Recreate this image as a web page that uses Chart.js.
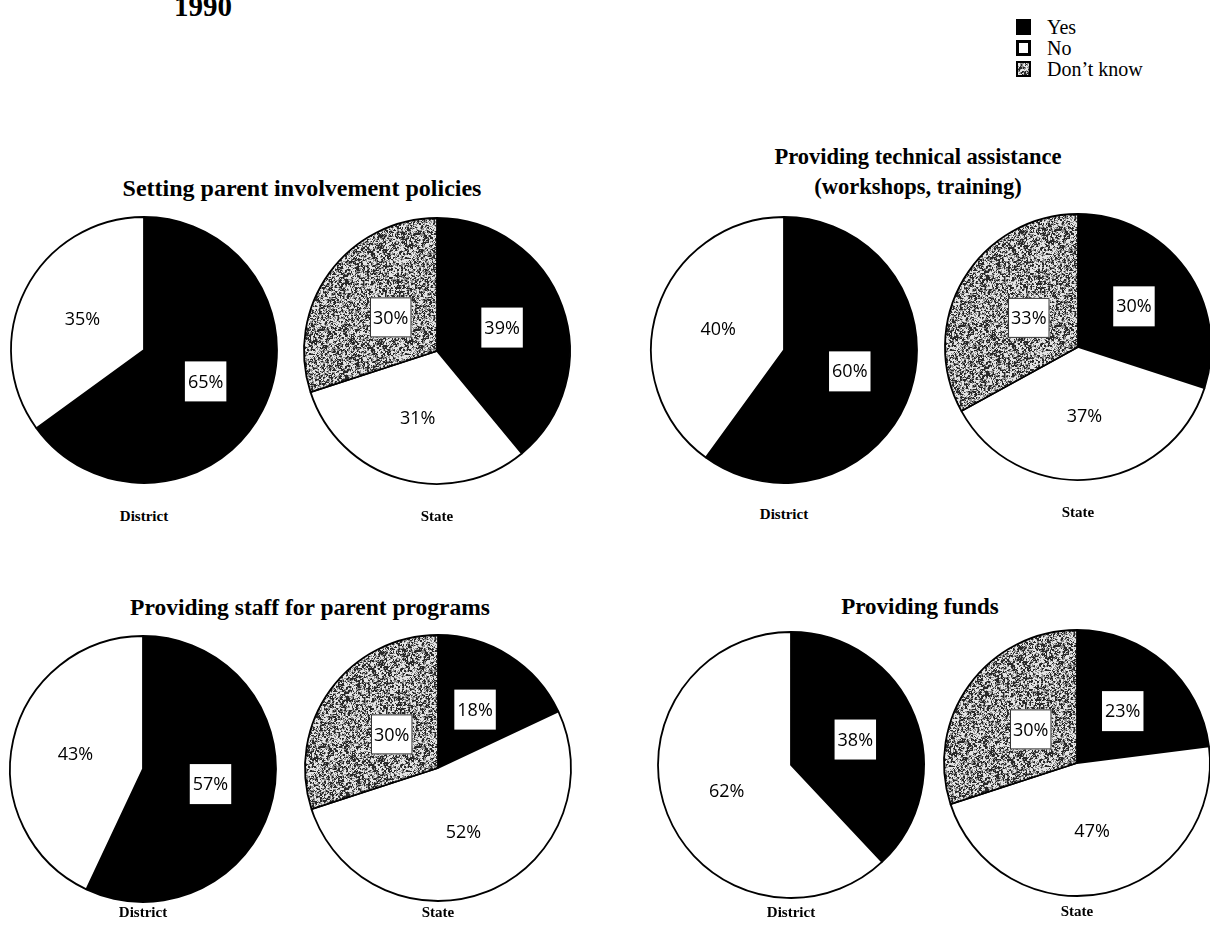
<!DOCTYPE html>
<html>
<head>
<meta charset="utf-8">
<script src="https://cdn.jsdelivr.net/npm/chart.js@4.4.1/dist/chart.umd.min.js"></script>
<style>
  html, body { margin: 0; padding: 0; background: #fff; overflow: hidden; }
  body { width: 1210px; height: 931px; position: relative; font-family: "Liberation Serif", "DejaVu Serif", serif; }
  .pie { position: absolute; width: 300px; height: 300px; }
  .title { position: absolute; font-weight: bold; font-size: 24px; text-align: center; width: 600px; line-height: 30px; color: #000; white-space: nowrap; }
  .sub { position: absolute; font-weight: bold; font-size: 15px; width: 120px; text-align: center; color: #000; }
  .year { position: absolute; left: 174px; top: -10px; font-weight: bold; font-size: 29px; }
  .legend { position: absolute; left: 1016px; top: 17px; font-size: 20px; line-height: 21px; }
  .legend div { position: relative; padding-left: 31px; height: 21px; }
  .legend span.sw { position: absolute; left: 0; top: 2px; width: 15px; height: 16px; box-sizing: border-box; }
</style>
</head>
<body>
<div class="year">1990</div>
<div class="legend">
  <div><span class="sw" style="background:#000"></span>Yes</div>
  <div><span class="sw" style="background:#fff;border:3px solid #000"></span>No</div>
  <div><span class="sw" id="dkSwatch" style="border:2px solid #000"></span>Don’t know</div>
</div>
<div id="page"></div>
<script>
// categories and values per panel
const categories = ['Yes', 'No', 'Don\u2019t know'];
const panelTitles = [
  ['Setting parent involvement policies'],
  ['Providing technical assistance', '(workshops, training)'],
  ['Providing staff for parent programs'],
  ['Providing funds']
];
const levelNames = ['District', 'State'];
const districtYes = [65, 60, 57, 38];
const districtNo = [35, 40, 43, 62];
const stateYes = [39, 30, 18, 23];
const stateNo = [31, 37, 52, 47];
const stateDontKnow = [30, 33, 30, 30];

// page layout (pie centres, title centres)
const pieCentres = [
  [[144, 350], [437, 351]],
  [[784, 350], [1078, 347]],
  [[143, 769], [438, 768]],
  [[791, 765], [1077, 763]]
];
const titleCentres = [[302, 188], [918, 157], [310, 607], [920, 607]];
const titleSizes = [24, 22.5, 23.5, 23];
const subLabelY = [[508, 508], [506, 504], [904, 904], [904, 903]];
const pieRadius = 133;

// speckled grey fill for "Don't know"
function makeStipple() {
  const n = 96;
  const c = document.createElement('canvas');
  c.width = n; c.height = n;
  const g = c.getContext('2d');
  const img = g.createImageData(n, n);
  let seed = 20240601;
  const rnd = () => { seed = (seed * 1103515245 + 12345) % 2147483648; return seed / 2147483648; };
  // small blotches mixed with fine grain
  const coarse = [];
  for (let i = 0; i < (n / 2) * (n / 2); i++) coarse.push(rnd());
  for (let y = 0; y < n; y++) {
    for (let x = 0; x < n; x++) {
      const cv = coarse[Math.floor(y / 2) * (n / 2) + Math.floor(x / 2)];
      const r = 0.5 * cv + 0.5 * rnd();
      const v = r < 0.4 ? 40 : (r < 0.56 ? 140 : 228);
      const i = (y * n + x) * 4;
      img.data[i] = v; img.data[i + 1] = v; img.data[i + 2] = v; img.data[i + 3] = 255;
    }
  }
  g.putImageData(img, 0, 0);
  return c;
}
const stippleCanvas = makeStipple();
document.getElementById('dkSwatch').style.background = 'url(' + stippleCanvas.toDataURL() + ')';

// percent labels drawn inside the slices, boxed on the dark/grey ones
const sliceLabels = {
  id: 'sliceLabels',
  afterDatasetsDraw(chart) {
    const ctx = chart.ctx;
    const ds = chart.data.datasets[0];
    const meta = chart.getDatasetMeta(0);
    ctx.save();
    ctx.font = '18px "Open Sans", "Liberation Sans", sans-serif';
    ctx.textAlign = 'center';
    ctx.textBaseline = 'middle';
    meta.data.forEach((arc, i) => {
      const cat = chart.data.labels[i];
      const mid = (arc.startAngle + arc.endAngle) / 2;
      const f = cat === categories[2] ? 0.43 : 0.52;
      const x = arc.x + Math.cos(mid) * arc.outerRadius * f;
      const y = arc.y + Math.sin(mid) * arc.outerRadius * f;
      const txt = ds.data[i] + '%';
      if (cat !== categories[1]) {
        const w = ctx.measureText(txt).width + 6;
        ctx.fillStyle = '#fff';
        ctx.fillRect(x - w / 2, y - 20, w, 40);
        if (cat === categories[2]) {
          ctx.strokeStyle = '#333';
          ctx.lineWidth = 1;
          ctx.strokeRect(x - w / 2 + 0.5, y - 19.5, w - 1, 39);
        }
      }
      ctx.fillStyle = '#000';
      ctx.fillText(txt, x, y + 1);
    });
    ctx.restore();
  }
};

function drawPie(left, top, labels, values, colors) {
  const canvas = document.createElement('canvas');
  canvas.className = 'pie';
  canvas.width = 300; canvas.height = 300;
  canvas.style.left = (left - 150) + 'px';
  canvas.style.top = (top - 150) + 'px';
  document.getElementById('page').appendChild(canvas);
  new Chart(canvas.getContext('2d'), {
    type: 'pie',
    data: {
      labels: labels,
      datasets: [{
        data: values,
        backgroundColor: colors,
        borderColor: '#000',
        borderWidth: 1.8
      }]
    },
    options: {
      responsive: false,
      animation: false,
      radius: pieRadius,
      layout: { padding: 0 },
      plugins: { legend: { display: false }, tooltip: { enabled: false } }
    },
    plugins: [sliceLabels]
  });
}

const page = document.getElementById('page');
const stipple = stippleCanvas.getContext('2d').createPattern(stippleCanvas, 'repeat');

panelTitles.forEach((lines, p) => {
  const t = document.createElement('div');
  t.className = 'title';
  t.style.left = (titleCentres[p][0] - 300) + 'px';
  t.style.top = (titleCentres[p][1] - 15) + 'px';
  t.style.fontSize = titleSizes[p] + 'px';
  t.innerHTML = lines.join('<br>');
  page.appendChild(t);

  const [dc, sc] = pieCentres[p];
  drawPie(dc[0], dc[1], categories.slice(0, 2), [districtYes[p], districtNo[p]], ['#000', '#fff']);
  drawPie(sc[0], sc[1], categories, [stateYes[p], stateNo[p], stateDontKnow[p]], ['#000', '#fff', stipple]);

  [dc, sc].forEach((c, k) => {
    const s = document.createElement('div');
    s.className = 'sub';
    s.style.left = (c[0] - 60) + 'px';
    s.style.top = subLabelY[p][k] + 'px';
    s.textContent = levelNames[k];
    page.appendChild(s);
  });
});
</script>
</body>
</html>
